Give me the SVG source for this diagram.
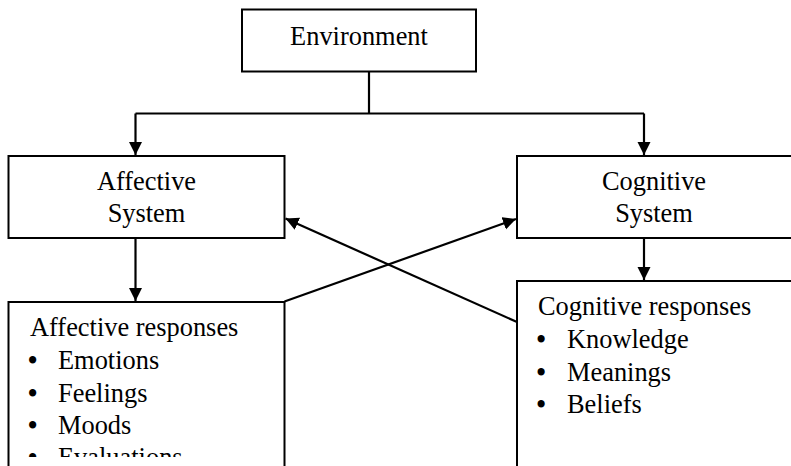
<svg xmlns="http://www.w3.org/2000/svg" width="791" height="466" viewBox="0 0 791 466">
  <style>
    .box { fill: #ffffff; stroke: #000000; stroke-width: 2; }
    .line { fill: none; stroke: #000000; stroke-width: 2.2; }
    .t { font-family: "Liberation Serif", "Times New Roman", serif; font-size: 26.4px; fill: #000000; }
    .b { font-weight: bold; }
    .c { text-anchor: middle; }
  </style>
  <defs>
    <marker id="arr" markerUnits="userSpaceOnUse" markerWidth="14" markerHeight="14" refX="13" refY="7" orient="auto" viewBox="0 0 14 14">
      <path d="M0,0.5 L13,7 L0,13.5 z" fill="#000000"/>
    </marker>
    <clipPath id="bottomClip">
      <rect x="0" y="0" width="791" height="457"/>
    </clipPath>
  </defs>

  <g id="environment">
    <rect class="box" x="242" y="9.5" width="234" height="62"/>
    <text class="t c" x="359" y="45">Environment</text>
  </g>

  <g id="affective-system">
    <rect class="box" x="8.5" y="156" width="276" height="82"/>
    <text class="t c" x="146.5" y="190">Affective</text>
    <text class="t c" x="146.5" y="221.5">System</text>
  </g>

  <g id="cognitive-system">
    <rect class="box" x="517" y="156" width="290" height="82"/>
    <text class="t c" x="654" y="190">Cognitive</text>
    <text class="t c" x="654" y="221.5">System</text>
  </g>

  <g id="affective-responses">
    <path class="box" d="M8.5,470 V302 H284.5 V470"/>
    <g clip-path="url(#bottomClip)">
      <text class="t" x="30" y="336">Affective responses</text>
      <text class="t" y="368.5"><tspan class="b" x="28">•</tspan><tspan x="58">Emotions</tspan></text>
      <text class="t" y="401.5"><tspan class="b" x="28">•</tspan><tspan x="58">Feelings</tspan></text>
      <text class="t" y="433.5"><tspan class="b" x="28">•</tspan><tspan x="58">Moods</tspan></text>
      <text class="t" y="466"><tspan class="b" x="28">•</tspan><tspan x="58">Evaluations</tspan></text>
    </g>
  </g>

  <g id="cognitive-responses">
    <path class="box" d="M517,470 V281 H800"/>
    <text class="t" x="538" y="315">Cognitive responses</text>
    <text class="t" y="348"><tspan class="b" x="536.5">•</tspan><tspan x="567">Knowledge</tspan></text>
    <text class="t" y="380.5"><tspan class="b" x="536.5">•</tspan><tspan x="567">Meanings</tspan></text>
    <text class="t" y="413"><tspan class="b" x="536.5">•</tspan><tspan x="567">Beliefs</tspan></text>
  </g>

  <g id="connectors">
    <path class="line" d="M369,72 V113.5"/>
    <path class="line" d="M135.5,113.5 H644"/>
    <path class="line" d="M135.5,113.5 V155" marker-end="url(#arr)"/>
    <path class="line" d="M644,113.5 V155" marker-end="url(#arr)"/>
    <path class="line" d="M135.5,238 V301" marker-end="url(#arr)"/>
    <path class="line" d="M644,238 V280" marker-end="url(#arr)"/>
    <path class="line" d="M284.5,301.5 L516,219" marker-end="url(#arr)"/>
    <path class="line" d="M517,322 L285.5,218.5" marker-end="url(#arr)"/>
  </g>
</svg>
